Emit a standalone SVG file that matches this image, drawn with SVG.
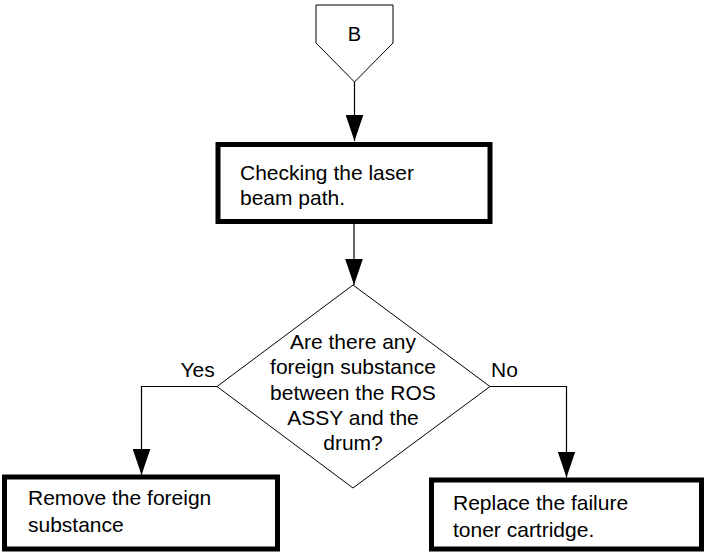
<svg xmlns="http://www.w3.org/2000/svg" width="704" height="552" viewBox="0 0 704 552">
<style>
  text { font-family: "Liberation Sans", Arial, sans-serif; font-size: 21px; fill: #000; }
  .c { text-anchor: middle; }
  .box { fill: #fff; stroke: #000; stroke-width: 5; }
  .thin { fill: #fff; stroke: #000; stroke-width: 1; }
  .conn { fill: none; stroke: #000; stroke-width: 1.2; }
</style>
<defs>
  <marker id="arr" markerUnits="userSpaceOnUse" markerWidth="26" markerHeight="18" viewBox="0 0 25 17" refX="25" refY="8.5" orient="auto">
    <path d="M0,0 L25,8.5 L0,17 Z" fill="#000"/>
  </marker>
</defs>
<rect width="704" height="552" fill="#fff"/>
<g id="connectors">
  <line class="conn" x1="354.5" y1="82" x2="354.5" y2="141" marker-end="url(#arr)"/>
  <line class="conn" x1="354" y1="224" x2="354" y2="285" marker-end="url(#arr)"/>
  <polyline class="conn" points="217,386.5 141.5,386.5 141.5,475" marker-end="url(#arr)"/>
  <polyline class="conn" points="490,386.5 566.5,386.5 566.5,477.5" marker-end="url(#arr)"/>
</g>
<g id="connectorB">
  <polygon class="thin" points="316,5 393,5 393,43 354.5,82 316,43"/>
  <text class="c" x="354.5" y="40.5" style="font-size:20px">B</text>
</g>
<g id="check">
  <rect class="box" x="218" y="144.5" width="272" height="77" stroke-width="4.5"/>
  <text x="240" y="180">Checking the laser</text>
  <text x="240" y="205">beam path.</text>
</g>
<g id="decision">
  <polygon class="thin" points="353,285 490,386.5 353,488 217,386.5"/>
  <text class="c" x="353" y="349">Are there any</text>
  <text class="c" x="353" y="374.3">foreign substance</text>
  <text class="c" x="353" y="399.5">between the ROS</text>
  <text class="c" x="353" y="424.5">ASSY and the</text>
  <text class="c" x="353" y="450">drum?</text>
</g>
<g id="labels">
  <text x="180.5" y="377">Yes</text>
  <text x="491" y="377">No</text>
</g>
<g id="remove">
  <rect class="box" x="4.5" y="477" width="273" height="72"/>
  <text x="28" y="505">Remove the foreign</text>
  <text x="28" y="531.7">substance</text>
</g>
<g id="replace">
  <rect class="box" x="431.5" y="480" width="270" height="69"/>
  <text x="453" y="510">Replace the failure</text>
  <text x="453" y="537">toner cartridge.</text>
</g>
</svg>
